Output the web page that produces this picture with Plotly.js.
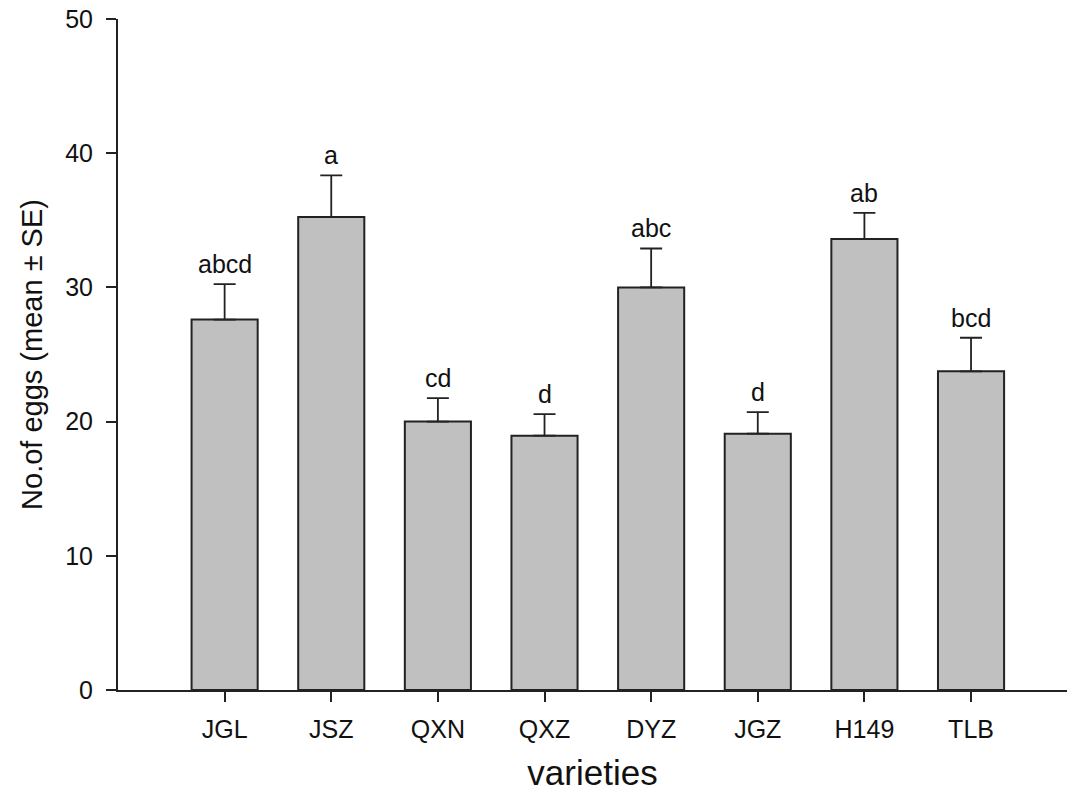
<!DOCTYPE html>
<html>
<head>
<meta charset="utf-8">
<script src="https://cdn.plot.ly/plotly-3.0.1.min.js"></script>
<style>html,body{margin:0;padding:0;background:#fff;}#chart{width:1067px;height:795px;}</style>
</head>
<body>
<div id="chart"></div>
<script>
const varieties = ["JGL", "JSZ", "QXN", "QXZ", "DYZ", "JGZ", "H149", "TLB"];
const meanEggs = [27.6, 35.25, 20.0, 18.95, 30.0, 19.1, 33.6, 23.75];
const seEggs = [2.65, 3.1, 1.75, 1.6, 2.9, 1.6, 1.95, 2.5];
const letters = ["abcd", "a", "cd", "d", "abc", "d", "ab", "bcd"];

const font = "Liberation Sans, Arial, sans-serif";

const trace = {
  type: "bar",
  x: varieties,
  y: meanEggs,
  width: 0.62,
  marker: {color: "#c0c0c0", line: {color: "#222", width: 2}},
  error_y: {type: "data", array: seEggs, arrayminus: seEggs.map(() => 0), symmetric: false,
            color: "#222", thickness: 1.8, width: 11},
  hoverinfo: "skip"
};

const annotations = varieties.map((v, i) => ({
  x: v, y: meanEggs[i] + seEggs[i], xref: "x", yref: "y",
  text: letters[i], showarrow: false, yanchor: "bottom", yshift: 4,
  font: {family: font, size: 25, color: "#111"}
}));

const layout = {
  width: 1067, height: 795,
  margin: {l: 118, r: 0, t: 19, b: 105},
  paper_bgcolor: "#fff", plot_bgcolor: "#fff",
  showlegend: false,
  xaxis: {
    type: "category", range: [-1, 7.9],
    showline: true, linecolor: "#222", linewidth: 2,
    ticks: "outside", ticklen: 10, tickwidth: 2, tickcolor: "#222",
    ticklabelstandoff: 6,
    showgrid: false, zeroline: false,
    tickfont: {family: font, size: 25, color: "#111"},
    title: {text: "varieties", font: {family: font, size: 35, color: "#111"}, standoff: 18}
  },
  yaxis: {
    range: [0, 50], tickvals: [0, 10, 20, 30, 40, 50],
    showline: true, linecolor: "#222", linewidth: 2,
    ticks: "outside", ticklen: 10, tickwidth: 2, tickcolor: "#222",
    ticklabelstandoff: 8,
    showgrid: false, zeroline: false,
    tickfont: {family: font, size: 25, color: "#111"},
    title: {text: "No.of eggs (mean ± SE)", font: {family: font, size: 29, color: "#111"}, standoff: 14}
  },
  annotations: annotations
};

Plotly.newPlot("chart", [trace], layout, {displayModeBar: false, staticPlot: true});
</script>
</body>
</html>
